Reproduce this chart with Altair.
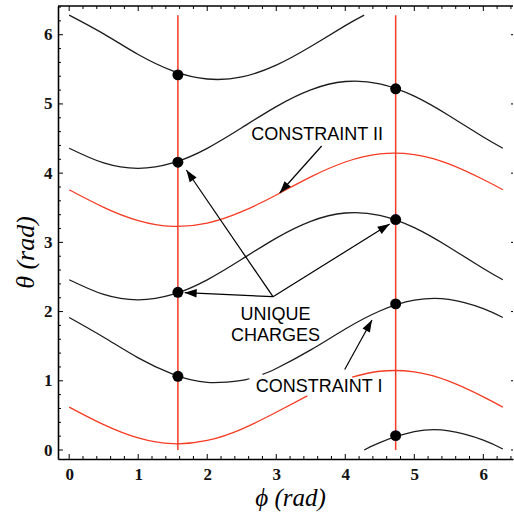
import math
import altair as alt
import pandas as pd

# ---------------- data ----------------
PHI = [0.0, 0.5, 1.0, 1.5, 2.0, 2.5, 3.0, 3.5, 4.0, 4.5, 5.0, 5.5, 6.0, 6.283]

# constraint I (black) curves
C2A_PHI = [0.0, 0.5, 1.0, 1.5, 2.0, 2.5, 2.61]
C2A_TH = [1.914, 1.629, 1.331, 1.095, 0.977, 1.007, 1.033]
C2B_PHI = [2.80, 3.0, 3.5, 4.0, 4.5, 5.0, 5.5, 6.0, 6.283]
C2B_TH = [1.094, 1.177, 1.446, 1.748, 2.008, 2.164, 2.177, 2.044, 1.914]
C1_PHI = [4.274, 4.5, 5.0, 5.5, 6.0, 6.283]
C1_TH = [0.0, 0.108, 0.264, 0.277, 0.144, 0.014]
C5_PHI = [0.0, 0.5, 1.0, 1.5, 2.0, 2.5, 3.0, 3.5, 4.0, 4.274]
C5_TH = [6.283, 6.012, 5.714, 5.478, 5.360, 5.390, 5.560, 5.829, 6.131, 6.283]
C3_TH = [2.460, 2.247, 2.170, 2.247, 2.459, 2.755, 3.062, 3.304, 3.424, 3.390, 3.212, 2.933, 2.622, 2.460]
C4_TH = [4.360, 4.147, 4.070, 4.147, 4.359, 4.655, 4.962, 5.204, 5.324, 5.290, 5.112, 4.833, 4.522, 4.360]

# constraint II (red) curves
R1A_PHI = [0.0, 0.5, 1.0, 1.5, 2.0, 2.5, 3.0, 3.45]
R1A_TH = [0.620, 0.366, 0.174, 0.091, 0.138, 0.303, 0.545, 0.781]
R1B_PHI = [4.10, 4.5, 5.0, 5.5, 6.0, 6.283]
R1B_TH = [1.054, 1.138, 1.128, 0.994, 0.768, 0.620]
R2_TH = [3.760, 3.506, 3.314, 3.231, 3.278, 3.443, 3.685, 3.946, 4.161, 4.278, 4.268, 4.134, 3.908, 3.760]

# vertical red lines
VLINE_PHI = [1.575, 4.73]
VLINE_TH0 = [0.0, 0.0]
VLINE_TH1 = [6.283, 6.283]

# unique charges (dots)
DOT_PHI = [1.575, 1.575, 1.575, 1.575, 4.73, 4.73, 4.73, 4.73]
DOT_TH = [1.065, 2.279, 4.158, 5.42, 0.208, 2.111, 3.33, 5.218]

# annotations
LABELS = ["CONSTRAINT II", "UNIQUE", "CHARGES", "CONSTRAINT I"]
LABEL_PHI = [3.593, 2.989, 2.989, 3.622]
LABEL_TH = [4.551, 1.951, 1.654, 0.910]

ARROW_PHI0 = [3.658, 2.953, 2.953, 2.953, 3.992]
ARROW_TH0 = [4.392, 2.215, 2.215, 2.215, 1.163]
ARROW_PHI1 = [3.050, 1.698, 1.673, 4.643, 4.387]
ARROW_TH1 = [3.713, 4.046, 2.273, 3.265, 1.878]

MAJOR = [0, 1, 2, 3, 4, 5, 6]
MINOR = [round(0.2 * i, 1) for i in range(1, 33) if i % 5 != 0]

# ---------------- layout / style ----------------
W, H = 455, 453
X_DOM = [-0.162, 6.43]
Y_DOM = [-0.13, 6.415]
BLACK = "#1c1c1c"
RED = "#f63b22"

xs = alt.Scale(domain=X_DOM, nice=False, zero=False)
ys = alt.Scale(domain=Y_DOM, nice=False, zero=False)

x_axis = alt.Axis(
    values=MAJOR, format="d", ticks=False, grid=False, domain=True,
    domainColor="black", domainWidth=1.6, labelFont="Liberation Serif",
    labelFontSize=17, labelFontWeight="bold", labelColor="#111", labelPadding=7,
    labelFlush=False, labelOverlap=False, labelBound=False,
    title="ϕ (rad)", titleFont="Liberation Serif", titleFontStyle="italic",
    titleFontWeight="normal", titleFontSize=25, titleColor="black",
    titleX=232, titleY=38, titleAlign="center", titleBaseline="middle",
)
y_axis = alt.Axis(
    values=MAJOR, format="d", ticks=False, grid=False, domain=True,
    domainColor="black", domainWidth=1.6, labelFont="Liberation Serif",
    labelFontSize=17, labelFontWeight="bold", labelColor="#111", labelPadding=6,
    labelFlush=False, labelOverlap=False, labelBound=False,
    title="θ (rad)", titleFont="Liberation Serif", titleFontStyle="italic",
    titleFontWeight="normal", titleFontSize=26, titleColor="black",
    titleX=-33, titleY=246, titleAngle=270, titleAlign="center", titleBaseline="middle",
)


def X(f):
    return alt.X(f"{f}:Q", scale=xs, axis=x_axis)


def Y(f):
    return alt.Y(f"{f}:Q", scale=ys, axis=y_axis)


rows = []


def add(name, kind, phis, ths):
    for p, t in zip(phis, ths):
        rows.append({"phi": p, "theta": t, "curve": name, "kind": kind})


add("c2a", "black", C2A_PHI, C2A_TH)
add("c2b", "black", C2B_PHI, C2B_TH)
add("c1", "black", C1_PHI, C1_TH)
add("c5", "black", C5_PHI, C5_TH)
add("c3", "black", PHI, C3_TH)
add("c4", "black", PHI, C4_TH)
add("r1a", "red", R1A_PHI, R1A_TH)
add("r1b", "red", R1B_PHI, R1B_TH)
add("r2", "red", PHI, R2_TH)
curve_df = pd.DataFrame(rows)

vline_df = pd.DataFrame({"phi": VLINE_PHI, "theta": VLINE_TH0, "theta2": VLINE_TH1})
dot_df = pd.DataFrame({"phi": DOT_PHI, "theta": DOT_TH})
label_df = pd.DataFrame({"phi": LABEL_PHI, "theta": LABEL_TH, "label": LABELS})

sx = W / (X_DOM[1] - X_DOM[0])
sy = H / (Y_DOM[1] - Y_DOM[0])
angles = []
for p0, t0, p1, t1 in zip(ARROW_PHI0, ARROW_TH0, ARROW_PHI1, ARROW_TH1):
    dx = (p1 - p0) * sx
    dy = -(t1 - t0) * sy
    angles.append(math.degrees(math.atan2(dx, -dy)) % 360)
arrow_df = pd.DataFrame({"phi": ARROW_PHI0, "theta": ARROW_TH0,
                         "phi2": ARROW_PHI1, "theta2": ARROW_TH1, "ang": angles})

vlines = alt.Chart(vline_df).mark_rule(color=RED, strokeWidth=1.5).encode(
    x=X("phi"), y=Y("theta"), y2="theta2:Q")

curves = alt.Chart(curve_df).mark_line(strokeWidth=1.3, interpolate="natural", clip=True).encode(
    x=X("phi"), y=Y("theta"),
    color=alt.Color("kind:N", scale=alt.Scale(domain=["black", "red"], range=[BLACK, RED]), legend=None),
    detail="curve:N",
)

dots = alt.Chart(dot_df).mark_circle(size=120, color="black", opacity=1).encode(
    x=X("phi"), y=Y("theta"))

arrow_lines = alt.Chart(arrow_df).mark_rule(color="black", strokeWidth=1.2).encode(
    x=X("phi"), y=Y("theta"), x2="phi2:Q", y2="theta2:Q")

HEAD = "M0,0L0.7,2L-0.7,2Z"
arrow_heads = alt.Chart(arrow_df).mark_point(
    shape=HEAD, filled=True, size=144, color="black", opacity=1, strokeWidth=0
).encode(x=X("phi2"), y=Y("theta2"), angle=alt.Angle("ang:Q", scale=None))

labels = alt.Chart(label_df).mark_text(
    font="Liberation Sans", fontSize=18, color="black", align="center", baseline="middle"
).encode(x=X("phi"), y=Y("theta"), text="label:N")

maj_df = pd.DataFrame({"phi": MAJOR, "theta": MAJOR})
min_df = pd.DataFrame({"phi": MINOR, "theta": MINOR})

tick_layers = []
for df, ln in ((maj_df, 5), (min_df, 3)):
    tick_layers.append(alt.Chart(df).mark_rule(color="black", strokeWidth=1).encode(
        x=X("phi"), y=alt.value(H), y2=alt.value(H - ln)))
    tick_layers.append(alt.Chart(df).mark_rule(color="black", strokeWidth=1).encode(
        x=X("phi"), y=alt.value(0), y2=alt.value(ln)))
    tick_layers.append(alt.Chart(df).mark_rule(color="black", strokeWidth=1).encode(
        y=Y("theta"), x=alt.value(0), x2=alt.value(ln)))
tick_layers.append(alt.Chart(maj_df).mark_rule(color="black", strokeWidth=1).encode(
    y=Y("theta"), x=alt.value(W - 2), x2=alt.value(W)))

frame_top = alt.Chart(pd.DataFrame({"a": [0]})).mark_rule(color="black", strokeWidth=1.6).encode(
    x=alt.value(0), x2=alt.value(W), y=alt.value(0))

chart = alt.layer(
    vlines, curves, dots, arrow_lines, arrow_heads, labels, *tick_layers, frame_top
).properties(
    width=W, height=H,
    autosize=alt.AutoSizeParams(type="none"),
    padding={"left": 58, "top": 6, "right": 1, "bottom": 58},
).configure_view(stroke=None)

chart.save("out.html", embed_options={"renderer": "svg", "actions": False})
